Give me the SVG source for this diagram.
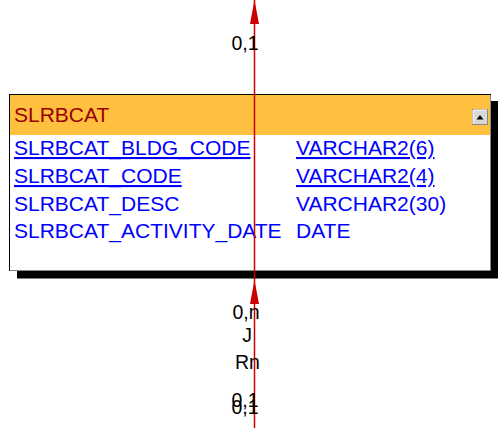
<svg xmlns="http://www.w3.org/2000/svg" width="501" height="428" viewBox="0 0 501 428">
<style>
text{font-family:"Liberation Sans",Arial,sans-serif}
.col{font-size:21px;fill:#0000ff}
.u{text-decoration:underline}
.lbl{font-size:19.5px;fill:#000;text-anchor:middle}
.edge{stroke:#cc0000;stroke-width:1.5;fill:none}
</style>
<defs>
<marker id="arr" viewBox="0 0 24 10" refX="24" refY="5" markerWidth="24" markerHeight="10" markerUnits="userSpaceOnUse" orient="auto">
<path d="M0,0.5 L24,5 L0,9.5 Z" fill="#cc0000"/>
</marker>
</defs>
<g id="SLRBCAT">
<rect x="17" y="101" width="481" height="177.5" fill="#000"/>
<rect x="9.5" y="94.5" width="481" height="176" fill="#fff" stroke="#000" stroke-width="1"/>
<rect x="10" y="95" width="480" height="40" fill="#ffc040"/>
<path d="M490.5,95 V270.5 H9.5" stroke="#888" stroke-width="1" fill="none"/>
<path d="M9.5,270.5 V94.5 H490.5" stroke="#000" stroke-width="1" fill="none"/>
<text x="14" y="122" font-size="21" fill="#990000">SLRBCAT</text>
<rect x="472.5" y="109.5" width="15" height="15" fill="#d8d8d8" stroke="#888" stroke-width="1"/>
<path d="M473,124 V110 H487" stroke="#fff" stroke-width="1" fill="none"/>
<path d="M476.5,119.5 L480,115 L483.5,119.5 Z" fill="#000"/>
<text class="col u" x="14" y="155">SLRBCAT_BLDG_CODE</text>
<text class="col u" x="296" y="155">VARCHAR2(6)</text>
<text class="col u" x="14" y="183">SLRBCAT_CODE</text>
<text class="col u" x="296" y="183">VARCHAR2(4)</text>
<text class="col" x="14" y="210.5">SLRBCAT_DESC</text>
<text class="col" x="296" y="210.5">VARCHAR2(30)</text>
<text class="col" x="14" y="238">SLRBCAT_ACTIVITY_DATE</text>
<text class="col" x="296" y="238">DATE</text>
</g>
<g id="connectors">
<line class="edge" x1="254.5" y1="280" x2="254.5" y2="0" marker-end="url(#arr)"/>
<line class="edge" x1="254.5" y1="428" x2="254.5" y2="280" marker-end="url(#arr)"/>
<text class="lbl" x="245" y="50">0,1</text>
<text class="lbl" x="246" y="318.5">0,n</text>
<text class="lbl" x="247" y="341.5">J</text>
<text class="lbl" x="247.5" y="369">Rn</text>
<text class="lbl" x="245" y="407">0,1</text>
<text class="lbl" x="245" y="414">0,1</text>
</g>
</svg>
